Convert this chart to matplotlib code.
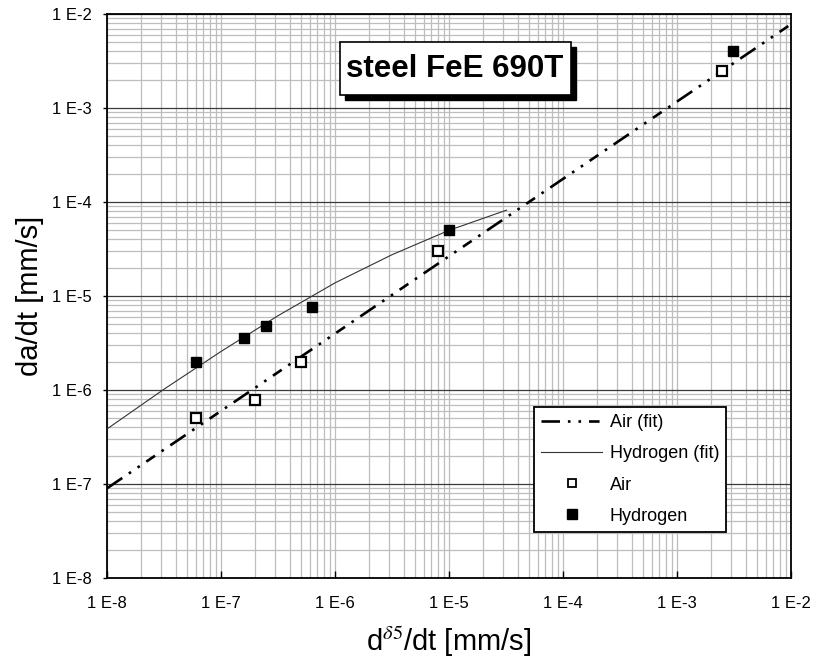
"""
Crack growth rate vs. CTOD rate, steel FeE 690T, air and hydrogen.
Log-log chart with Excel-style grid, boxed title and legend.
"""

import math

import matplotlib
matplotlib.use('Agg')
import matplotlib.pyplot as plt
from matplotlib.lines import Line2D
from matplotlib.patches import Rectangle
from matplotlib.ticker import FixedLocator, FuncFormatter, LogLocator, NullFormatter

plt.rcParams['font.family'] = ['Liberation Sans', 'DejaVu Sans']
plt.rcParams['mathtext.fontset'] = 'stix'

# ---------------------------------------------------------------------------
# Data
# ---------------------------------------------------------------------------
air_x = [6e-8, 2e-7, 5e-7, 8e-6, 2.5e-3]
air_y = [5e-7, 7.8e-7, 2e-6, 3e-5, 2.5e-3]

h2_x = [6e-8, 1.6e-7, 2.5e-7, 6.3e-7, 1e-5, 3.1e-3]
h2_y = [2e-6, 3.6e-6, 4.8e-6, 7.6e-6, 5e-5, 4e-3]

air_fit_x = [1e-8, 1e-2]
air_fit_y = [9e-8, 7.8e-3]

h2_fit_x = [1e-8, 3.16e-8, 1e-7, 3.16e-7, 1e-6, 3.16e-6, 1e-5, 3.2e-5]
h2_fit_y = [3.85e-7, 1.02e-6, 2.57e-6, 6.17e-6, 1.38e-5, 2.75e-5, 5.0e-5, 8.2e-5]

decades = [1e-8, 1e-7, 1e-6, 1e-5, 1e-4, 1e-3, 1e-2]
title_text = 'steel FeE 690T'

AIR_DASH = (0, (7, 3, 1, 3, 1, 3, 4, 3, 1, 3))


def exp_label(v, pos):
    """Format a decade as Excel does: 1 E-5."""
    e = int(round(math.log10(v)))
    return f'1 E{e}'


fig = plt.figure(figsize=(8.13, 6.65), dpi=100)
ax = fig.add_axes([0.1316, 0.1308, 0.8414, 0.8481])

ax.set_xscale('log')
ax.set_yscale('log')
ax.set_xlim(1e-8, 1e-2)
ax.set_ylim(1e-8, 1e-2)

# Grid: light gray minor lines, dark horizontal decades
for axis in (ax.xaxis, ax.yaxis):
    axis.set_major_locator(FixedLocator(decades))
    axis.set_major_formatter(FuncFormatter(exp_label))
    axis.set_minor_locator(LogLocator(base=10, subs=range(2, 10), numticks=20))
    axis.set_minor_formatter(NullFormatter())

ax.grid(which='minor', color='#bdbdbd', linewidth=0.9)
ax.xaxis.grid(which='major', color='#bdbdbd', linewidth=0.9)
ax.yaxis.grid(which='major', color='#3a3a3a', linewidth=0.9)
ax.set_axisbelow(True)

ax.tick_params(which='minor', length=0)
ax.tick_params(axis='x', which='major', direction='in', length=5, width=1,
               labelsize=12, pad=13)
ax.tick_params(axis='y', which='major', direction='out', length=3, width=1,
               labelsize=12, pad=8)
for s in ax.spines.values():
    s.set_linewidth(1.3)
    s.set_color('black')

# Fits
ax.plot(air_fit_x, air_fit_y, color='black', linewidth=1.9,
        linestyle=AIR_DASH, zorder=3)
ax.plot(h2_fit_x, h2_fit_y, color='#333333', linewidth=0.8, zorder=3)

# Measured points
ax.plot(air_x, air_y, linestyle='none', marker='s', markersize=7.5,
        markerfacecolor='white', markeredgecolor='black',
        markeredgewidth=1.6, zorder=4)
ax.plot(h2_x, h2_y, linestyle='none', marker='s', markersize=7.5,
        markerfacecolor='black', markeredgecolor='black', zorder=4)

ax.set_xlabel(r'd$^{\delta 5}$/dt [mm/s]', fontsize=21, labelpad=10)
ax.set_ylabel('da/dt [mm/s]', fontsize=21, labelpad=6)

# Title box with drop shadow
bx0, by0, bw, bh = 0.3406, 0.8564, 0.3378, 0.094
ax.add_patch(Rectangle((bx0 + 5 / 684, by0 - 5 / 564), bw, bh,
                       transform=ax.transAxes, facecolor='black',
                       edgecolor='black', zorder=6))
ax.add_patch(Rectangle((bx0, by0), bw, bh, transform=ax.transAxes,
                       facecolor='white', edgecolor='black', linewidth=1.2,
                       zorder=7))
ax.text(0.508, 0.888, title_text, transform=ax.transAxes, ha='center',
        va='baseline', fontsize=22.5, fontweight='bold', zorder=8)

# Legend
handles = [
    Line2D([], [], color='black', linewidth=1.9, linestyle=AIR_DASH),
    Line2D([], [], color='#333333', linewidth=0.8),
    Line2D([], [], linestyle='none', marker='s', markersize=6,
           markerfacecolor='white', markeredgecolor='black', markeredgewidth=1.3),
    Line2D([], [], linestyle='none', marker='s', markersize=6.5,
           markerfacecolor='black', markeredgecolor='black'),
]
labels = ['Air (fit)', 'Hydrogen (fit)', 'Air', 'Hydrogen']
leg = ax.legend(handles, labels, loc='upper left', bbox_to_anchor=(0.624, 0.303),
                fontsize=13, handlelength=3.4, handletextpad=0.4,
                labelspacing=0.78, borderpad=0.4, borderaxespad=0,
                fancybox=False, framealpha=1, edgecolor='black')
leg.get_frame().set_linewidth(1.3)
leg.set_zorder(9)

plt.savefig('out.png', dpi=100)
plt.close()
